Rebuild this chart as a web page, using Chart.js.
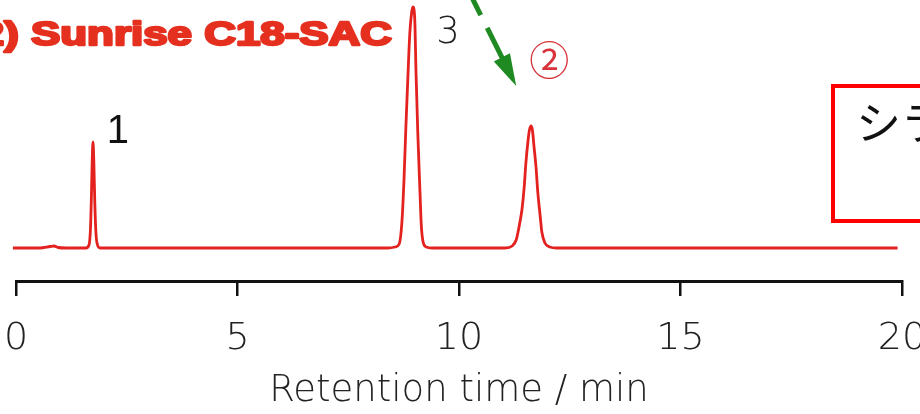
<!DOCTYPE html>
<html>
<head>
<meta charset="utf-8">
<script src="https://cdn.jsdelivr.net/npm/chart.js@4.4.1/dist/chart.umd.min.js"></script>
<style>
  html, body { margin: 0; padding: 0; background: #ffffff; }
  #wrap { width: 920px; height: 414px; position: relative; overflow: hidden; }
</style>
</head>
<body>
<div id="wrap"><canvas id="chrom" width="920" height="414"></canvas></div>
<script>
// Chromatogram trace: retention time (min) and detector signal (arbitrary units, baseline = 0)
const retentionTime = [
  -0.07, 0.54, 0.77, 0.86, 0.95, 1.13,
  1.58, 1.648, 1.682, 1.704, 1.722, 1.738, 1.756, 1.779, 1.806, 1.84, 1.896,
  5.0,
  8.40, 8.56, 8.65, 8.71, 8.76, 8.80, 8.85, 8.89, 8.93, 8.96, 9.00, 9.03, 9.07, 9.12, 9.15, 9.19, 9.26, 9.39,
  11.04, 11.20, 11.29, 11.35, 11.42, 11.47, 11.51, 11.56, 11.59, 11.63, 11.66, 11.69, 11.74, 11.78, 11.83, 11.87, 11.94, 12.05, 12.21,
  16.0, 19.9
];
const signal = [
  0, 0, 1.5, 2, 0.5, 0,
  0, 3, 20, 55, 90, 106, 88, 45, 14, 3, 0,
  0,
  0, 1, 4, 25, 70, 120, 175, 215, 235, 241, 230, 175, 115, 55, 22, 6, 1, 0,
  0, 2, 8, 20, 38, 60, 85, 108, 118, 122, 117, 103, 80, 55, 33, 16, 5, 1, 0,
  0, 0
];

// Axis ticks and peak annotations
const tickValues = [0, 5, 10, 15, 20];
const peakTimes = [1.738, 8.96, 11.63];
const peakHeights = [106, 241, 122];
const peakLabels = ['1', '3', '②'];
const columnName = '(2) Sunrise C18-SAC';
const boxText = 'シラノール';
const axisTitle = 'Retention time / min';

const THIN = "'DejaVu Sans ExtraLight', 'DejaVu Sans'";

const annotate = {
  id: 'annotate',
  afterDraw(chart) {
    const ctx = chart.ctx;
    const xs = chart.scales.x, ys = chart.scales.y;
    const apex = peakTimes.map((t, i) => ({ x: xs.getPixelForValue(t), y: ys.getPixelForValue(peakHeights[i]) }));
    ctx.save();

    // column name, heavy red lettering
    ctx.save();
    ctx.font = "bold 33px 'Liberation Sans', Arial, sans-serif";
    const w = ctx.measureText('Sunrise C18-SAC').width;
    const sx = 361 / w;
    ctx.translate(392, 45);
    ctx.scale(sx, 1);
    ctx.textAlign = 'right';
    ctx.textBaseline = 'alphabetic';
    ctx.fillStyle = '#e5301f';
    ctx.strokeStyle = '#e5301f';
    ctx.lineWidth = 2.4;
    ctx.lineJoin = 'round';
    ctx.fillText(columnName, 0, 0);
    ctx.strokeText(columnName, 0, 0);
    ctx.restore();

    ctx.textAlign = 'center';
    ctx.textBaseline = 'middle';

    // peak 1
    ctx.fillStyle = '#111';
    ctx.font = "40px 'Liberation Sans', Arial, sans-serif";
    ctx.fillText(peakLabels[0], apex[0].x + 25, apex[0].y - 10);

    // peak 3
    ctx.fillStyle = '#222';
    ctx.font = "200 37px " + THIN;
    ctx.fillText(peakLabels[1], apex[1].x + 35, apex[1].y + 26);

    // peak 2, circled number
    ctx.fillStyle = '#d8323a';
    ctx.font = "400 40px 'Noto Sans CJK JP', sans-serif";
    ctx.fillText(peakLabels[2], apex[2].x + 18, apex[2].y - 66);

    // green dashed arrow pointing at peak 2
    const tip = { x: apex[2].x - 15, y: apex[2].y - 40 };
    const start = { x: tip.x - 46, y: tip.y - 92 };
    const len = Math.hypot(tip.x - start.x, tip.y - start.y);
    const ux = (tip.x - start.x) / len, uy = (tip.y - start.y) / len;
    const at = s => ({ x: start.x + ux * s, y: start.y + uy * s });
    ctx.strokeStyle = '#1f8a22';
    ctx.fillStyle = '#1f8a22';
    ctx.lineWidth = 5;
    ctx.lineCap = 'butt';
    [[0, 23.5], [38, 72]].forEach(([a, b]) => {
      const p = at(a), q = at(b);
      ctx.beginPath(); ctx.moveTo(p.x, p.y); ctx.lineTo(q.x, q.y); ctx.stroke();
    });
    const base = at(len - 32);
    ctx.beginPath();
    ctx.moveTo(tip.x, tip.y);
    ctx.lineTo(base.x - uy * 9, base.y + ux * 9);
    ctx.lineTo(base.x + uy * 9, base.y - ux * 9);
    ctx.closePath();
    ctx.fill();

    // red framed note at right
    ctx.strokeStyle = '#ff0000';
    ctx.lineWidth = 4;
    ctx.strokeRect(833, 86, 200, 135);
    ctx.fillStyle = '#111';
    ctx.textAlign = 'left';
    ctx.font = "45px 'Noto Sans CJK JP', sans-serif";
    ctx.fillText(boxText, 856, 123);

    ctx.restore();
  }
};

new Chart(document.getElementById('chrom'), {
  type: 'line',
  data: {
    datasets: [{
      data: retentionTime.map((t, i) => ({ x: t, y: signal[i] })),
      borderColor: '#e3221f',
      borderWidth: 2.8,
      pointRadius: 0,
      cubicInterpolationMode: 'monotone',
      fill: false,
      clip: false
    }]
  },
  options: {
    responsive: false,
    animation: false,
    devicePixelRatio: 1,
    layout: { padding: { left: 16, right: 18, top: 0, bottom: 0 } },
    plugins: { legend: { display: false }, tooltip: { enabled: false } },
    scales: {
      x: {
        type: 'linear',
        min: 0,
        max: 20,
        afterBuildTicks(scale) { scale.ticks = tickValues.map(v => ({ value: v })); },
        afterFit(scale) { scale.paddingLeft = 0; scale.paddingRight = 0; scale.height = 133; },
        ticks: {
          autoSkip: false,
          maxRotation: 0,
          padding: 20,
          color: '#222',
          font: { family: THIN, size: 38, weight: 200 }
        },
        grid: { drawOnChartArea: false, drawTicks: true, tickLength: 15, color: '#111', lineWidth: 2.5 },
        border: { display: true, color: '#111', width: 3 },
        title: {
          display: true,
          text: axisTitle,
          color: '#222',
          padding: { top: 0, bottom: 0 },
          font: { family: THIN, size: 37, weight: 200 }
        }
      },
      y: {
        display: false,
        min: -33,
        max: 248
      }
    }
  },
  plugins: [annotate]
});
</script>
</body>
</html>
